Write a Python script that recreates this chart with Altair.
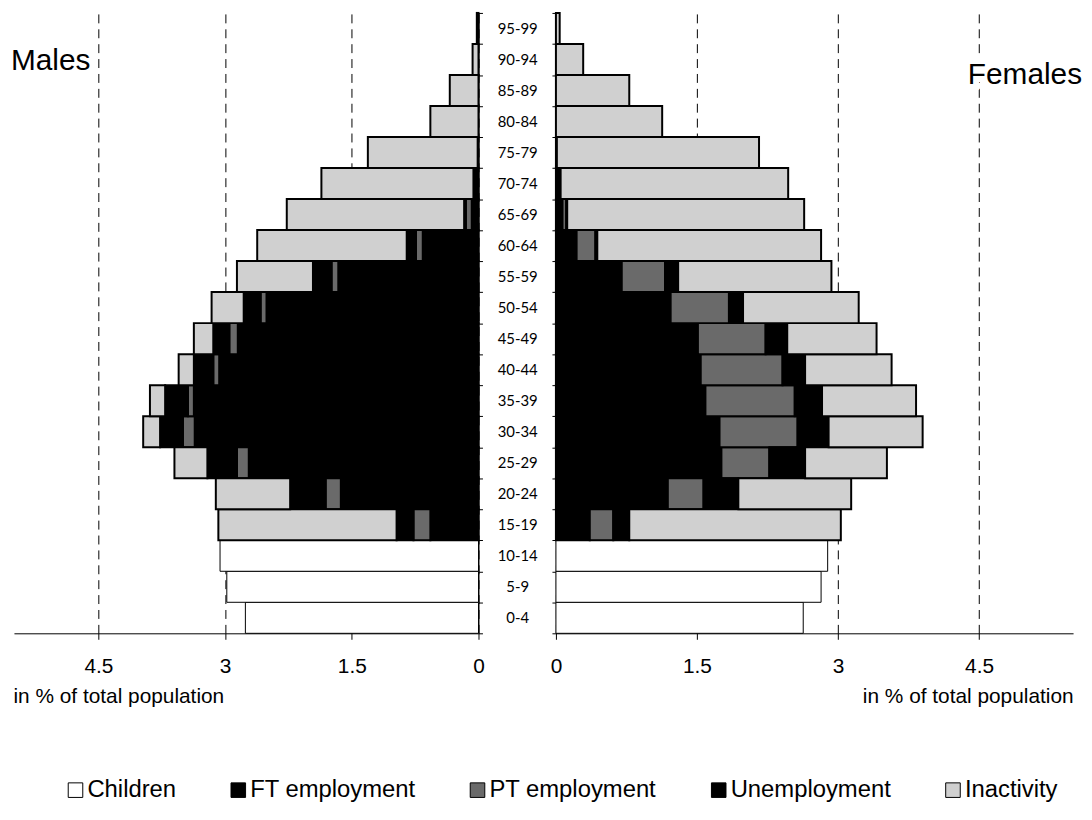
import altair as alt
import pandas as pd

# ---------------- data ----------------
ages = ["0-4", "5-9", "10-14", "15-19", "20-24", "25-29", "30-34", "35-39",
        "40-44", "45-49", "50-54", "55-59", "60-64", "65-69", "70-74",
        "75-79", "80-84", "85-89", "90-94", "95-99"]
categories = ["Children", "FT employment", "PT employment", "Unemployment", "Inactivity"]
cat_colors = ["#ffffff", "#000000", "#6a6a6a", "#000000", "#d0d0d0"]

# Males, % of total population
male_children = [2.76, 2.98, 3.06, 0, 0, 0, 0, 0, 0, 0, 0, 0, 0, 0, 0, 0, 0, 0, 0, 0]
male_ft = [0, 0, 0, 0.57, 1.63, 2.72, 3.36, 3.37, 3.07, 2.85, 2.51, 1.66, 0.66, 0.08, 0.03, 0.01, 0, 0, 0, 0]
male_pt = [0, 0, 0, 0.20, 0.18, 0.14, 0.14, 0.07, 0.07, 0.10, 0.07, 0.08, 0.08, 0.07, 0.01, 0, 0, 0, 0, 0]
male_un = [0, 0, 0, 0.20, 0.42, 0.35, 0.27, 0.27, 0.23, 0.19, 0.20, 0.22, 0.11, 0.02, 0.02, 0, 0, 0, 0, 0]
male_in = [0, 0, 0, 2.11, 0.88, 0.39, 0.20, 0.18, 0.18, 0.23, 0.38, 0.90, 1.77, 2.10, 1.80, 1.30, 0.57, 0.34, 0.07, 0.02]

# Females, % of total population
female_children = [2.63, 2.82, 2.89, 0, 0, 0, 0, 0, 0, 0, 0, 0, 0, 0, 0, 0, 0, 0, 0, 0]
female_ft = [0, 0, 0, 0.36, 1.19, 1.76, 1.74, 1.59, 1.54, 1.51, 1.22, 0.70, 0.22, 0.07, 0.04, 0.01, 0, 0, 0, 0]
female_pt = [0, 0, 0, 0.25, 0.38, 0.51, 0.83, 0.95, 0.87, 0.72, 0.62, 0.46, 0.20, 0.04, 0.01, 0, 0, 0, 0, 0]
female_un = [0, 0, 0, 0.17, 0.37, 0.38, 0.33, 0.29, 0.24, 0.23, 0.15, 0.14, 0.02, 0.01, 0, 0, 0, 0, 0, 0]
female_in = [0, 0, 0, 2.25, 1.20, 0.87, 1.00, 1.00, 0.92, 0.95, 1.23, 1.63, 2.38, 2.52, 2.42, 2.15, 1.13, 0.78, 0.29, 0.04]

tick_values = [0, 1.5, 3, 4.5]

# ---------------- table ----------------
rows = []
for sex, series in [("Males", [male_children, male_ft, male_pt, male_un, male_in]),
                    ("Females", [female_children, female_ft, female_pt, female_un, female_in])]:
    for ci, (cat, vals) in enumerate(zip(categories, series)):
        for age, v in zip(ages, vals):
            if v > 0:
                rows.append({"sex": sex, "age": age, "category": cat, "ci": ci, "value": v})
df = pd.DataFrame(rows)

FONT = "Liberation Sans"
H = 625

color_enc = alt.Color(
    "category:N",
    scale=alt.Scale(domain=categories, range=cat_colors),
    legend=alt.Legend(
        title=None, orient="none", legendX=50, legendY=771, direction="horizontal",
        columns=5, symbolType="square", symbolSize=215, symbolStrokeColor="black",
        symbolStrokeWidth=1, labelFont=FONT, labelFontSize=24, labelColor="black",
        labelOffset=0, columnPadding=50, labelLimit=400,
    ),
)


def panel(sex, width, reverse, yaxis, xtitle_x, xtitle_align, label_text, label_x, label_y, label_align):
    data = df[df["sex"] == sex]
    bars = alt.Chart(data).mark_bar(stroke="black").encode(
        y=alt.Y("age:N", sort=ages[::-1],
                scale=alt.Scale(paddingInner=0, paddingOuter=0),
                axis=yaxis),
        x=alt.X("value:Q", stack="zero",
                scale=alt.Scale(domain=[0, 5.5], reverse=reverse, nice=False),
                axis=alt.Axis(values=tick_values, labelExpr="format(datum.value, '.1~f')",
                              grid=True, gridDash=[9, 6], gridColor="black", gridWidth=1,
                              domainColor="black", tickColor="black", tickSize=6,
                              labelFont=FONT, labelFontSize=21, labelColor="black",
                              labelPadding=16, labelFlush=False,
                              title="in % of total population", titleFont=FONT,
                              titleFontSize=21, titleFontWeight="normal", titleColor="black",
                              titleX=xtitle_x, titleY=64, titleAlign=xtitle_align,
                              titleBaseline="middle", titleAngle=0)),
        color=color_enc,
        order=alt.Order("ci:Q"),
        strokeWidth=alt.condition(alt.datum.category == "Children", alt.value(1), alt.value(2)),
    )
    lbl_df = pd.DataFrame({"t": [label_text]})
    halo = alt.Chart(lbl_df).mark_text(
        align=label_align, baseline="alphabetic", font=FONT, fontSize=30,
        color="white", stroke="white", strokeWidth=12
    ).encode(text="t:N", x=alt.value(label_x), y=alt.value(label_y))
    lbl = alt.Chart(lbl_df).mark_text(
        align=label_align, baseline="alphabetic", font=FONT, fontSize=30, color="black"
    ).encode(text="t:N", x=alt.value(label_x), y=alt.value(label_y))
    return alt.layer(bars, halo, lbl).properties(width=width, height=H)


left_y = alt.Axis(orient="right", labels=False, ticks=True, tickBand="extent", tickSize=4,
                  domainColor="black", tickColor="black", title=None, grid=False)
right_y = alt.Axis(orient="left", labels=True, ticks=True, tickBand="extent", tickSize=4,
                   domainColor="black", tickColor="black", title=None, grid=False,
                   labelAlign="center", labelBaseline="middle", labelPadding=35,
                   labelFont="Lato", labelFontSize=15, labelColor="black")

left = panel("Males", 468, True, left_y, -1, "left", "Males", -3, 57, "left")
right = panel("Females", 521, False, right_y, 521, "right", "Females", 530, 72, "right")

chart = alt.hconcat(left, right, spacing=78, bounds="flush").resolve_scale(
    color="shared", y="shared"
).properties(
    padding={"left": 3, "top": -5, "right": 2, "bottom": 0}
).configure(background="white").configure_view(stroke=None)

chart.save("out.html", embed_options={"renderer": "svg", "actions": False})
